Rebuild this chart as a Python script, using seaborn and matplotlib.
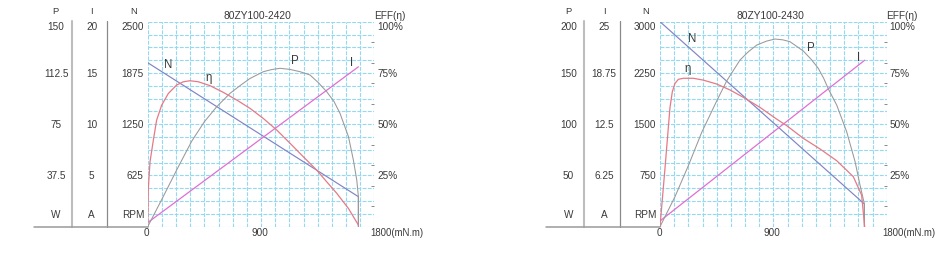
import numpy as np
import pandas as pd
import matplotlib
matplotlib.use("Agg")
import matplotlib.pyplot as plt
import seaborn as sns

# ---------------- data: left chart ----------------
L_TITLE = "80ZY100-2420"
L_P_TICKS = ["150", "112.5", "75", "37.5"]
L_I_TICKS = ["20", "15", "10", "5"]
L_N_TICKS = ["2500", "1875", "1250", "625"]
L_P_MAX, L_I_MAX, L_N_MAX = 150, 20, 2500

L_N_T = [0, 1673, 1673]
L_N = [2000, 366, 0]
L_I_T = [0, 1673]
L_I = [0.4, 15.6]
L_P_T = [0, 116, 230, 349, 450, 548, 654, 740, 813, 918, 985, 1051, 1130, 1210, 1289, 1355, 1421, 1480, 1527, 1594, 1633, 1660, 1673, 1673]
L_P = [0, 20.7, 41.5, 62.5, 76.8, 87.8, 97.6, 103.7, 108.5, 113.4, 115.0, 115.9, 115.1, 113.4, 111.0, 105.4, 98.8, 91.5, 82.9, 65.9, 48.8, 34.1, 22.0, 0]
L_E_T = [0, 5, 18.5, 45, 71, 111, 164, 230, 283, 336, 402, 495, 601, 707, 813, 918, 1024, 1130, 1236, 1342, 1420, 1501, 1594, 1673]
L_E = [0, 18.7, 31.7, 42.3, 52.0, 59.3, 65.0, 69.1, 70.7, 71.2, 70.7, 68.8, 65.5, 61.8, 57.7, 52.8, 47.2, 40.7, 34.1, 27.6, 22.0, 16.3, 8.9, 0.8]

# ---------------- data: right chart ----------------
R_TITLE = "80ZY100-2430"
R_P_TICKS = ["200", "150", "100", "50"]
R_I_TICKS = ["25", "18.75", "12.5", "6.25"]
R_N_TICKS = ["3000", "2250", "1500", "750"]
R_P_MAX, R_I_MAX, R_N_MAX = 200, 25, 3000

R_N_T = [0, 1623, 1623]
R_N = [3000, 332, 0]
R_I_T = [0, 1625]
R_I = [0.7, 20.3]
R_P_T = [0, 119, 225, 331, 450, 529, 635, 700, 768, 847, 913, 975, 1032, 1138, 1200, 1257, 1300, 1337, 1403, 1482, 1549, 1588, 1623, 1623]
R_P = [0, 29.3, 59.5, 92.0, 122.6, 142.1, 162.6, 170.5, 177.2, 181.1, 183.1, 182.3, 180.5, 171.4, 163.3, 154.5, 144.7, 134.3, 118.7, 92.7, 63.4, 40.7, 22.1, 0]
R_E_T = [0, 40, 79, 98, 119, 146, 185, 265, 344, 450, 556, 662, 794, 926, 1006, 1138, 1271, 1403, 1535, 1601, 1625]
R_E = [0, 28.8, 58.0, 65.9, 69.9, 71.9, 72.4, 72.4, 71.5, 69.6, 66.7, 63.1, 58.2, 52.5, 49.3, 43.1, 37.9, 32.2, 24.4, 15.4, 0]

# ---------------- shared text ----------------
EFF_TICKS = ["100%", "75%", "50%", "25%"]
EFF_MINOR = [10, 20, 30, 40, 60, 70, 80, 90]
HEADERS = ["P", "I", "N"]
UNITS = ["W", "A", "RPM"]
X_TICKS = [0, 900, 1800]
X_UNIT = "(mN.m)"
X_MAX = 1800
EFF_LABEL = "EFF(η)"
CURVE_NAMES = ["N", "η", "P", "I"]

# ---------------- style ----------------
sns.set_theme(style="white")
plt.rcParams["font.family"] = ["Liberation Sans", "DejaVu Sans"]

W, H = 943, 257
fig = plt.figure(figsize=(W / 100, H / 100), dpi=100)

TXT = "#3a3a3a"
C_N = "#8084c4"
C_I = "#e06fd2"
C_P = "#999999"
C_E = "#e57a86"
GRID = "#95d9ee"
FS = 7.2


def fx(px):
    return px / W


def fy(py):
    return 1 - py / H


PLOT_TOP, PLOT_H, PLOT_W = 21.7, 205.0, 226.7
ROW_Y = [27.3, 74.0, 124.7, 175.7]
UNIT_Y = 215.0
HEAD_Y = 11.0
TITLE_Y = 15.7
BOTTOM = PLOT_TOP + PLOT_H


def panel(L, title, pt, it, nt, pmax, imax, nmax, nT, nV, iT, iV, pT, pV, eT, eV, label_pos):
    ax = fig.add_axes([fx(L), fy(BOTTOM), PLOT_W / W, PLOT_H / H])
    ax.set_xlim(0, X_MAX)
    ax.set_ylim(0, nmax)
    ax.set_xticks(np.linspace(0, X_MAX, 17))
    ax.set_yticks(np.linspace(0, nmax, 17))
    ax.tick_params(length=0, labelbottom=False, labelleft=False)
    ax.grid(True, color=GRID, lw=0.8, ls=(0, (3.5, 1.2)))
    for s in ax.spines.values():
        s.set_visible(False)

    axI = ax.twinx()
    axP = ax.twinx()
    axE = ax.twinx()
    axI.set_ylim(0, imax)
    axP.set_ylim(0, pmax)
    axE.set_ylim(0, 100)
    for a in (axI, axP, axE):
        for s in a.spines.values():
            s.set_visible(False)
        a.set_yticks([])
        a.grid(False)
    axE.set_yticks(EFF_MINOR)
    axE.tick_params(axis="y", right=True, left=False, length=2.2, width=0.6,
                    direction="in", color="#777777", labelright=False)

    for a, T, V, c, lw in ((ax, nT, nV, C_N, 0.85), (axI, iT, iV, C_I, 0.9),
                           (axP, pT, pV, C_P, 0.75), (axE, eT, eV, C_E, 0.9)):
        df = pd.DataFrame({"T": T, "V": V})
        sns.lineplot(data=df, x="T", y="V", ax=a, color=c, lw=lw,
                     sort=False, estimator=None)
        a.set_xlabel("")
        a.set_ylabel("")
    ax.set_xlim(0, X_MAX)

    # column text
    colx = [L - 91.5, L - 56, L - 4]
    for j, vals in enumerate((pt, it, nt)):
        ha = "right" if j == 2 else "center"
        for v, y in zip(vals, ROW_Y):
            fig.text(fx(colx[j]), fy(y), v, ha=ha, va="center", fontsize=FS, color=TXT)
        fig.text(fx(colx[j] if j < 2 else L - 3), fy(UNIT_Y), UNITS[j], ha=ha, va="center",
                 fontsize=FS, color=TXT)
    headx = [L - 92, L - 56, L - 14.5]
    for h, x in zip(HEADERS, headx):
        fig.text(fx(x), fy(HEAD_Y), h, ha="center", va="center", fontsize=6.8, color=TXT)

    # separators
    fig.add_artist(plt.Line2D([fx(L - 75.7)] * 2, [fy(20.7), fy(BOTTOM)], color="#bdbdbd", lw=1.5))
    fig.add_artist(plt.Line2D([fx(L - 40.5)] * 2, [fy(20.7), fy(BOTTOM)], color="#8a8a8a", lw=0.9))
    fig.add_artist(plt.Line2D([fx(L - 114), fx(L)], [fy(BOTTOM)] * 2, color="#9a9a9a", lw=1.1))

    # title and EFF
    fig.text(fx(L + 110), fy(TITLE_Y), title, ha="center", va="center", fontsize=7.4, color=TXT)
    fig.text(fx(L + 242), fy(TITLE_Y), EFF_LABEL, ha="center", va="center", fontsize=FS, color=TXT)
    for v, y in zip(EFF_TICKS, ROW_Y):
        fig.text(fx(L + 229.5), fy(y), v, ha="left", va="center", fontsize=FS, color=TXT)

    # x tick labels
    for t in X_TICKS[:-1]:
        px = L + t / X_MAX * PLOT_W
        fig.text(fx(px - 1), fy(BOTTOM + 6.3), str(t), ha="center", va="center", fontsize=FS, color=TXT)
    fig.text(fx(L + PLOT_W - 4.5), fy(BOTTOM + 6.3), f"{X_TICKS[-1]}{X_UNIT}", ha="left", va="center",
             fontsize=6.9, color=TXT)

    # curve names
    for name, (dx, y) in zip(CURVE_NAMES, label_pos):
        fig.text(fx(L + dx), fy(y), name, ha="center", va="center", fontsize=8.3, color=TXT)


panel(147.7, L_TITLE, L_P_TICKS, L_I_TICKS, L_N_TICKS, L_P_MAX, L_I_MAX, L_N_MAX,
      L_N_T, L_N, L_I_T, L_I, L_P_T, L_P, L_E_T, L_E,
      [(20.3, 65), (61.3, 78.3), (147.3, 61), (204.3, 63)])
panel(660.0, R_TITLE, R_P_TICKS, R_I_TICKS, R_N_TICKS, R_P_MAX, R_I_MAX, R_N_MAX,
      R_N_T, R_N, R_I_T, R_I, R_P_T, R_P, R_E_T, R_E,
      [(32.3, 39), (27.3, 69.3), (150.7, 47.7), (199, 57.7)])

fig.savefig("out.png", dpi=100)
